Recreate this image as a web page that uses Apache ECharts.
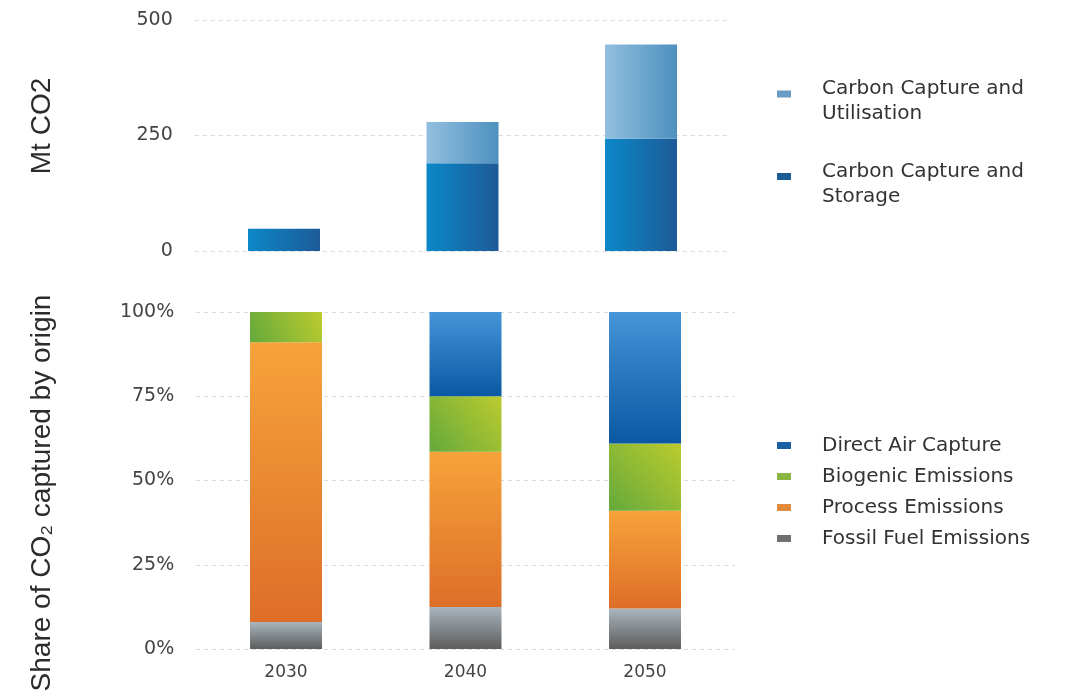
<!DOCTYPE html>
<html>
<head>
<meta charset="utf-8">
<script src="https://cdn.jsdelivr.net/npm/echarts@6/dist/echarts.min.js"></script>
<style>
  html, body { margin: 0; padding: 0; background: #ffffff; }
  #chart { width: 1087px; height: 693px; }
</style>
</head>
<body>
<div id="chart"></div>
<script>
// Captured CO2 volumes (Mt) and share of captured CO2 by origin (%)
const years = ['2030', '2040', '2050'];

const ccsMt = [48, 190, 243];        // Carbon Capture and Storage
const ccuMt = [0, 89, 204];          // Carbon Capture and Utilisation

const fossilShare = [8, 12.5, 12];   // Fossil Fuel Emissions
const processShare = [83, 46, 29];   // Process Emissions
const biogenicShare = [9, 16.5, 20]; // Biogenic Emissions
const dacShare = [0, 25, 39];        // Direct Air Capture

const mtTicks = [0, 250, 500];
const shareTicks = [0, 25, 50, 75, 100];

const LABEL_FONT = "'DejaVu Sans', Verdana, sans-serif";

function hGrad(c0, c1) {
  return new echarts.graphic.LinearGradient(0, 0, 1, 0, [
    { offset: 0, color: c0 }, { offset: 1, color: c1 }
  ]);
}
function vGrad(c0, c1) {
  return new echarts.graphic.LinearGradient(0, 0, 0, 1, [
    { offset: 0, color: c0 }, { offset: 1, color: c1 }
  ]);
}
function dGrad(c0, c1) {
  return new echarts.graphic.LinearGradient(1, 0, 0, 1, [
    { offset: 0, color: c0 }, { offset: 1, color: c1 }
  ]);
}

const splitLine = {
  show: true,
  lineStyle: { color: '#d9d9d9', width: 1, type: [4, 4] }
};

const chart = echarts.init(document.getElementById('chart'));

chart.setOption({
  backgroundColor: '#ffffff',
  animation: false,
  grid: [
    { left: 194.75, width: 535.5, top: 20, height: 231 },
    { left: 196.25, width: 538.5, top: 312, height: 337 }
  ],
  xAxis: [
    {
      type: 'category', gridIndex: 0, data: years,
      axisLine: { show: false }, axisTick: { show: false },
      axisLabel: { show: false }
    },
    {
      type: 'category', gridIndex: 1, data: years,
      axisLine: { show: false }, axisTick: { show: false },
      axisLabel: { color: '#444', fontSize: 17, fontFamily: LABEL_FONT, margin: 15 }
    }
  ],
  yAxis: [
    {
      type: 'value', gridIndex: 0,
      min: mtTicks[0], max: mtTicks[mtTicks.length - 1], interval: mtTicks[1] - mtTicks[0],
      axisLine: { show: false }, axisTick: { show: false },
      axisLabel: { color: '#444', fontSize: 19, fontFamily: LABEL_FONT, margin: 22 },
      splitLine: splitLine
    },
    {
      type: 'value', gridIndex: 1,
      min: shareTicks[0], max: shareTicks[shareTicks.length - 1], interval: shareTicks[1] - shareTicks[0],
      axisLine: { show: false }, axisTick: { show: false },
      axisLabel: { color: '#444', fontSize: 19, fontFamily: LABEL_FONT, margin: 22, formatter: '{value}%' },
      splitLine: splitLine
    }
  ],
  legend: [
    {
      left: 777, top: 68.5, padding: 0, orient: 'vertical',
      itemWidth: 14, itemHeight: 7, itemGap: 27, icon: 'rect',
      textStyle: {
        color: '#333', fontSize: 20, fontFamily: LABEL_FONT, padding: [0, 0, 0, 26],
        rich: {
          s: { fontSize: 1, lineHeight: 15 },
          t: { color: '#333', fontSize: 20, fontFamily: LABEL_FONT, lineHeight: 25 }
        }
      },
      formatter: function (name) {
        const parts = name.split('Capture and ');
        return '{s| }\n{t|' + parts[0] + 'Capture and}\n{t|' + parts[1] + '}';
      },
      data: [
        { name: 'Carbon Capture and Utilisation', itemStyle: { color: '#6b9dc4' } },
        { name: 'Carbon Capture and Storage', itemStyle: { color: '#1c5d98' } }
      ]
    },
    {
      left: 777, top: 435.5, padding: 0, orient: 'vertical',
      itemWidth: 14, itemHeight: 7, itemGap: 11, icon: 'rect',
      textStyle: { color: '#333', fontSize: 20, fontFamily: LABEL_FONT, lineHeight: 19, padding: [0, 0, 0, 26] },
      data: [
        { name: 'Direct Air Capture', itemStyle: { color: '#1b60a4' } },
        { name: 'Biogenic Emissions', itemStyle: { color: '#8ab644' } },
        { name: 'Process Emissions', itemStyle: { color: '#e28a3b' } },
        { name: 'Fossil Fuel Emissions', itemStyle: { color: '#707070' } }
      ]
    }
  ],
  graphic: [
    {
      type: 'text', x: 42, y: 126, rotation: Math.PI / 2,
      style: {
        text: 'Mt CO2', fill: '#2b2b2b',
        font: "28px 'Liberation Sans', Arial, sans-serif",
        align: 'center', verticalAlign: 'middle'
      }
    },
    {
      type: 'text', x: 42, y: 493, rotation: Math.PI / 2,
      style: {
        text: 'Share of CO\u2082 captured by origin', fill: '#2b2b2b',
        font: "28px 'Liberation Sans', Arial, sans-serif",
        align: 'center', verticalAlign: 'middle'
      }
    }
  ],
  series: [
    {
      name: 'Carbon Capture and Storage', type: 'bar', stack: 'mt',
      xAxisIndex: 0, yAxisIndex: 0, barWidth: 72, data: ccsMt,
      itemStyle: { color: hGrad('#0b88c8', '#1e5a97') }
    },
    {
      name: 'Carbon Capture and Utilisation', type: 'bar', stack: 'mt',
      xAxisIndex: 0, yAxisIndex: 0, barWidth: 72, data: ccuMt,
      itemStyle: { color: hGrad('#92bfdf', '#4d90bf') }
    },
    {
      name: 'Fossil Fuel Emissions', type: 'bar', stack: 'share',
      xAxisIndex: 1, yAxisIndex: 1, barWidth: 72, data: fossilShare,
      itemStyle: { color: vGrad('#aab5bd', '#5c5c5c') }
    },
    {
      name: 'Process Emissions', type: 'bar', stack: 'share',
      xAxisIndex: 1, yAxisIndex: 1, barWidth: 72, data: processShare,
      itemStyle: { color: vGrad('#f6a33b', '#de6e28') }
    },
    {
      name: 'Biogenic Emissions', type: 'bar', stack: 'share',
      xAxisIndex: 1, yAxisIndex: 1, barWidth: 72, data: biogenicShare,
      itemStyle: { color: dGrad('#bccb2e', '#64a93c') }
    },
    {
      name: 'Direct Air Capture', type: 'bar', stack: 'share',
      xAxisIndex: 1, yAxisIndex: 1, barWidth: 72, data: dacShare,
      itemStyle: { color: vGrad('#4595d8', '#0a58a3') }
    }
  ]
});
</script>
</body>
</html>
